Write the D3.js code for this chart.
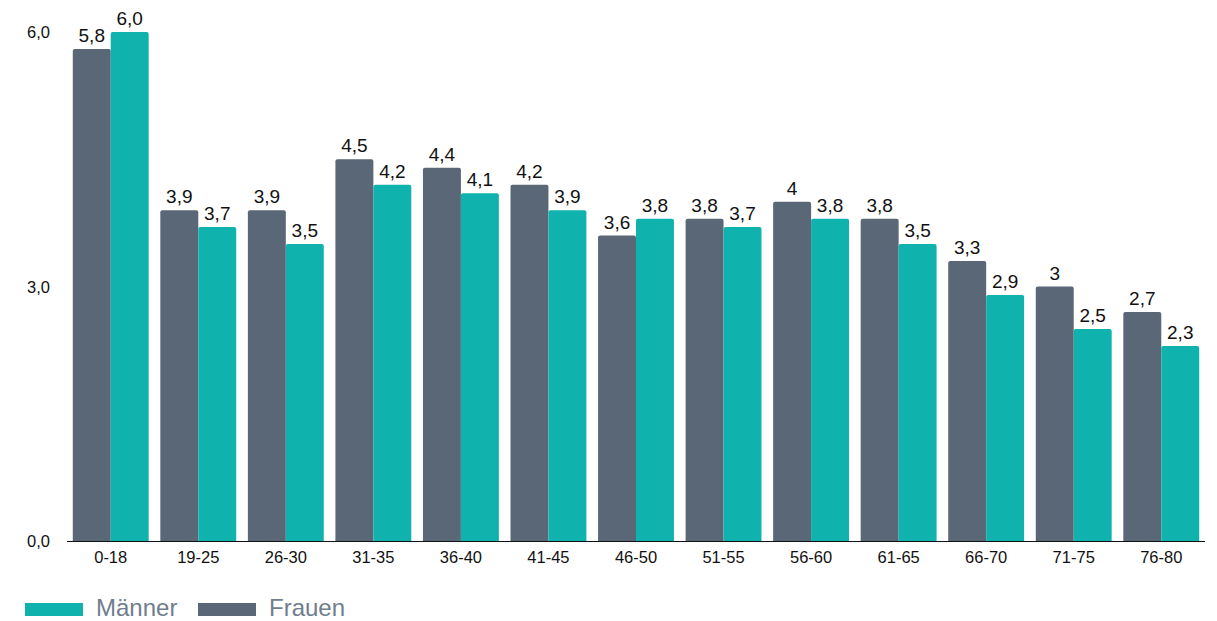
<!DOCTYPE html>
<html lang="de">
  <head>
    <meta charset="UTF-8" />
    <title>Altersgruppen</title>
    <style>
      body { margin: 0; background: #fff; font-family: 'Liberation Sans', Arial, sans-serif; }
      .tick-label { font-size: 16.5px; fill: #111; }
      .val { font-size: 19px; fill: #111; text-anchor: middle; }
      .legend-text { font-size: 24px; fill: #6f7d8c; }
    </style>
  </head>
  <body>
    <script src="https://cdn.jsdelivr.net/npm/d3@7"></script>
    <script>
      // Data
      const categories = ['0-18', '19-25', '26-30', '31-35', '36-40', '41-45', '46-50', '51-55', '56-60', '61-65', '66-70', '71-75', '76-80'];
      const frauen = [5.8, 3.9, 3.9, 4.5, 4.4, 4.2, 3.6, 3.8, 4, 3.8, 3.3, 3, 2.7];
      const maenner = [6.0, 3.7, 3.5, 4.2, 4.1, 3.9, 3.8, 3.7, 3.8, 3.5, 2.9, 2.5, 2.3];
      const frauenLabels = ['5,8', '3,9', '3,9', '4,5', '4,4', '4,2', '3,6', '3,8', '4', '3,8', '3,3', '3', '2,7'];
      const maennerLabels = ['6,0', '3,7', '3,5', '4,2', '4,1', '3,9', '3,8', '3,7', '3,8', '3,5', '2,9', '2,5', '2,3'];
      const yTicks = [0, 3, 6];
      const seriesNames = ['Frauen', 'Männer'];

      const width = 1217;
      const height = 621;
      const colors = { Frauen: '#5a6776', 'Männer': '#10b2ae' };

      const svg = d3.select('body').append('svg')
        .attr('width', width).attr('height', height);

      const x = d3.scaleBand()
        .domain(categories)
        .range([67, 1205])
        .paddingInner(0.133)
        .paddingOuter(0.066);

      const xSub = d3.scaleBand()
        .domain(seriesNames)
        .range([0, x.bandwidth()]);

      const y = d3.scaleLinear().domain([0, 6]).range([541, 32]);

      // y tick labels
      svg.append('g').selectAll('text')
        .data(yTicks)
        .enter().append('text')
        .attr('class', 'tick-label')
        .attr('x', 50)
        .attr('y', (d) => y(d) + 6)
        .attr('text-anchor', 'end')
        .text((d) => d.toFixed(1).replace('.', ','));

      // bars with slightly rounded tops
      const barPath = (x0, w, yTop, yBase) => {
        const r = 2;
        return `M${x0},${yBase}V${yTop + r}Q${x0},${yTop} ${x0 + r},${yTop}H${x0 + w - r}Q${x0 + w},${yTop} ${x0 + w},${yTop + r}V${yBase}Z`;
      };

      const series = [
        { name: 'Frauen', values: frauen, labels: frauenLabels },
        { name: 'Männer', values: maenner, labels: maennerLabels }
      ];

      series.forEach((s) => {
        const g = svg.append('g');
        g.selectAll('path')
          .data(s.values)
          .enter().append('path')
          .attr('fill', colors[s.name])
          .attr('d', (d, i) => barPath(x(categories[i]) + xSub(s.name), xSub.bandwidth(), y(d), y(0)));
        g.selectAll('text')
          .data(s.values)
          .enter().append('text')
          .attr('class', 'val')
          .attr('x', (d, i) => x(categories[i]) + xSub(s.name) + xSub.bandwidth() / 2)
          .attr('y', (d) => y(d) - 7)
          .text((d, i) => s.labels[i]);
      });

      // x axis line
      svg.append('line')
        .attr('x1', 67).attr('x2', 1205)
        .attr('y1', 541.5).attr('y2', 541.5)
        .attr('stroke', '#111').attr('stroke-width', 1);

      svg.append('g').selectAll('text')
        .data(categories)
        .enter().append('text')
        .attr('class', 'tick-label')
        .attr('x', (d) => x(d) + x.bandwidth() / 2)
        .attr('y', 563)
        .attr('text-anchor', 'middle')
        .text((d) => d);

      // legend
      const legend = [
        { name: 'Männer', x: 25 },
        { name: 'Frauen', x: 198 }
      ];
      const lg = svg.append('g');
      legend.forEach((l) => {
        lg.append('rect')
          .attr('x', l.x).attr('y', 603)
          .attr('width', 58).attr('height', 13)
          .attr('fill', colors[l.name]);
        lg.append('text')
          .attr('class', 'legend-text')
          .attr('x', l.x + 71).attr('y', 616)
          .text(l.name);
      });
    </script>
  </body>
</html>
